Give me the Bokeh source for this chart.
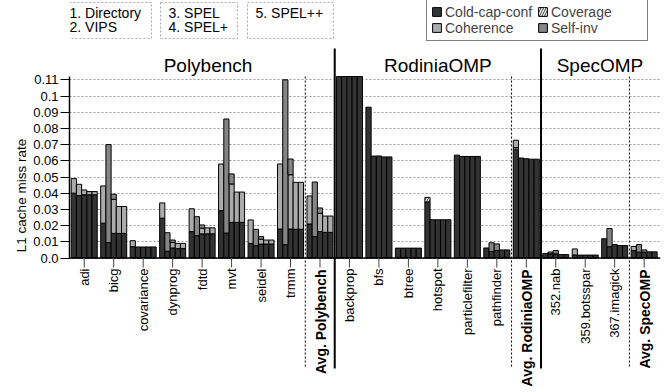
import numpy as np
from bokeh.plotting import figure
from bokeh.models import ColumnDataSource, FixedTicker, Legend, LegendItem, Title, Range1d
from bokeh.core.properties import value
from bokeh.embed import file_html
from bokeh.resources import INLINE

# ---------------- data ----------------
categories = ["adi", "bicg", "covariance", "dynprog", "fdtd", "mvt", "seidel", "trmm",
              "Avg. Polybench",
              "backprop", "bfs", "btree", "hotspot", "particlefilter", "pathfinder",
              "Avg. RodiniaOMP",
              "352.nab", "359.botsspar", "367.imagick", "Avg. SpecOMP"]
avg_categories = ["Avg. Polybench", "Avg. RodiniaOMP", "Avg. SpecOMP"]
suites = ["Polybench", "RodiniaOMP", "SpecOMP"]
suite_first = [0, 9, 16]
suite_last = [8, 15, 19]
config_lines = [["1. Directory", "2. VIPS"], ["3. SPEL", "4. SPEL+"], ["5. SPEL++"]]
series_names = ["Cold-cap-conf", "Coverage", "Coherence", "Self-inv"]

# one row per category, one value per configuration (1..5)
cold = [
    [0.040, 0.0385, 0.039, 0.039, 0.039],        # adi
    [0.0215, 0.0095, 0.0152, 0.0152, 0.0152],    # bicg
    [0.0070, 0.0068, 0.0068, 0.0068, 0.0068],    # covariance
    [0.0246, 0.0042, 0.0062, 0.0058, 0.0058],    # dynprog
    [0.0163, 0.0138, 0.0149, 0.0149, 0.0149],    # fdtd
    [0.0292, 0.0154, 0.0220, 0.0220, 0.0220],    # mvt
    [0.0090, 0.0076, 0.0086, 0.0086, 0.0086],    # seidel
    [0.0179, 0.0082, 0.0179, 0.0177, 0.0177],    # trmm
    [0.0210, 0.0132, 0.0163, 0.0158, 0.0158],    # Avg. Polybench
    [0.115, 0.115, 0.115, 0.115, 0.115],         # backprop (off scale)
    [0.0931, 0.0629, 0.0630, 0.0624, 0.0624],    # bfs
    [0.0061, 0.0061, 0.0061, 0.0061, 0.0061],    # btree
    [0.0346, 0.0236, 0.0236, 0.0236, 0.0236],    # hotspot
    [0.0635, 0.0627, 0.0627, 0.0627, 0.0627],    # particlefilter
    [0.0062, 0.0040, 0.0046, 0.0050, 0.0050],    # pathfinder
    [0.0672, 0.0617, 0.0613, 0.0610, 0.0610],    # Avg. RodiniaOMP
    [0.0027, 0.0026, 0.0026, 0.0021, 0.0021],    # 352.nab
    [0.0019, 0.0018, 0.0018, 0.0018, 0.0018],    # 359.botsspar
    [0.0119, 0.0070, 0.0083, 0.0077, 0.0077],    # 367.imagick
    [0.0046, 0.0036, 0.0036, 0.0038, 0.0038],    # Avg. SpecOMP
]
coverage = [[0, 0, 0, 0, 0] for _ in range(12)] + [
    [0.0028, 0, 0, 0, 0],                        # hotspot
    [0, 0, 0, 0, 0],
    [0, 0, 0, 0, 0],
    [0.0010, 0, 0, 0, 0],                        # Avg. RodiniaOMP
    [0, 0, 0, 0, 0], [0, 0, 0, 0, 0], [0, 0, 0, 0, 0], [0, 0, 0, 0, 0],
]
coherence = [
    [0.0090, 0.0070, 0.0030, 0.0020, 0.0020],
    [0.0230, 0, 0.0210, 0.0166, 0.0166],
    [0.0037, 0, 0, 0, 0],
    [0.0094, 0, 0.0034, 0.0032, 0.0032],
    [0.0141, 0, 0.0035, 0.0037, 0.0037],
    [0.0288, 0, 0.0237, 0.0187, 0.0187],
    [0.0145, 0, 0.0030, 0.0025, 0.0025],
    [0.0401, 0, 0.0335, 0.0290, 0.0290],
    [0.0173, 0, 0.0113, 0.0101, 0.0101],
    [0, 0, 0, 0, 0], [0, 0, 0, 0, 0], [0, 0, 0, 0, 0], [0, 0, 0, 0, 0],
    [0, 0, 0, 0, 0], [0, 0, 0, 0, 0],
    [0.0045, 0, 0, 0, 0],
    [0, 0, 0, 0, 0],
    [0.0037, 0, 0, 0, 0],
    [0, 0, 0, 0, 0],
    [0.0025, 0, 0, 0, 0],
]
selfinv = [
    [0, 0, 0, 0, 0],
    [0, 0.0605, 0.0032, 0, 0],
    [0, 0, 0, 0, 0],
    [0, 0.0114, 0.0015, 0, 0],
    [0, 0.0117, 0.0020, 0, 0],
    [0, 0.0704, 0.0062, 0, 0],
    [0, 0.0101, 0.0016, 0, 0],
    [0, 0.1018, 0.0097, 0, 0],
    [0, 0.0337, 0.0033, 0, 0],
    [0, 0, 0, 0, 0], [0, 0, 0, 0, 0], [0, 0, 0, 0, 0], [0, 0, 0, 0, 0],
    [0, 0, 0, 0, 0],
    [0, 0.0054, 0.0041, 0, 0],
    [0, 0, 0, 0, 0],
    [0, 0.0011, 0.0020, 0, 0],
    [0, 0, 0, 0, 0],
    [0, 0.0112, 0, 0, 0],
    [0, 0.0047, 0.0014, 0, 0],
]
yticks = [0.0, 0.01, 0.02, 0.03, 0.04, 0.05, 0.06, 0.07, 0.08, 0.09, 0.1, 0.11]
ytick_labels = ["0.0", "0.01", "0.02", "0.03", "0.04", "0.05", "0.06", "0.07",
                "0.08", "0.09", "0.1", "0.11"]

# ---------------- layout helpers ----------------
FONT = "Liberation Sans"
W, H = 664, 390
ORIG_X, ORIG_Y = 0, 0
PX_X = 29.47                    # px per category
FRAME_L = 69                    # absolute px of frame left
ZERO_Y = 257.5                  # absolute px of y = 0
YPX = 0.11 / 178.2              # data per px
YMAX = 0.112
BORDER_L, BORDER_R = FRAME_L - ORIG_X, 4
X0 = -0.5
X1 = X0 + (W - BORDER_L - BORDER_R) / PX_X
Y1 = (ZERO_Y - ORIG_Y) * YPX
Y0 = -(ORIG_Y + H - ZERO_Y) * YPX


def ax(xabs):
    return X0 + (xabs - FRAME_L) / PX_X


def ay(yabs):
    return (ZERO_Y - yabs) * YPX


p = figure(width=W, height=H, output_backend="svg", toolbar_location=None,
           x_range=Range1d(X0, X1), y_range=Range1d(Y0, Y1),
           x_axis_location=None, min_border_left=BORDER_L, min_border_right=BORDER_R,
           min_border_top=0, min_border_bottom=0)
p.outline_line_color = None
p.xgrid.visible = False
p.ygrid.ticker = FixedTicker(ticks=yticks)
p.ygrid.grid_line_color = "#9a9a9a"
p.ygrid.grid_line_dash = "2 2"
p.ygrid.grid_line_width = 1

yax = p.yaxis[0]
yax.ticker = FixedTicker(ticks=yticks)
yax.bounds = (0, YMAX)
yax.major_label_overrides = dict(zip(yticks, ytick_labels))
yax.major_label_text_font = FONT
yax.major_label_text_font_size = "13px"
yax.major_label_text_color = "black"
yax.major_tick_out = 9
yax.major_tick_in = 0
yax.minor_tick_out = 0
yax.minor_tick_in = 0
yax.major_label_standoff = 2
yax.axis_line_color = "black"
yax.axis_line_width = 1.5
yax.major_tick_line_color = "black"

# y axis title, centred on the 0..0.112 axis rather than the whole frame
frame_mid = (ORIG_Y + H) / 2
axis_mid = (ZERO_Y + (ZERO_Y - YMAX / YPX)) / 2
p.add_layout(Title(text="L1 cache miss rate", align="center", offset=frame_mid - axis_mid,
                   text_font=FONT, text_font_size="13.5px", text_font_style="normal",
                   text_color="black", standoff=4), "left")

# ---------------- bars ----------------
n = len(categories)
BW = 0.1765
offsets = (np.arange(5) - 2) * BW
centers = np.arange(n)
styles = [
    dict(fill_color="#333333"),
    dict(fill_color="white", hatch_pattern="/", hatch_color="black", hatch_scale=5, hatch_weight=0.8),
    dict(fill_color="#ababab"),
    dict(fill_color="#858585"),
]
base = np.zeros((n, 5))
legend_items = []
for name, arr, st in zip(series_names, [cold, coverage, coherence, selfinv], styles):
    a = np.array(arr, dtype=float)
    bottom = base.copy()
    top = base + a
    base = top
    mask = a > 0
    xs = (centers[:, None] + offsets[None, :])[mask]
    src = ColumnDataSource(dict(x=xs, bottom=np.minimum(bottom[mask], YMAX),
                                top=np.minimum(top[mask], YMAX)))
    r = p.vbar(x="x", width=BW, bottom="bottom", top="top", source=src,
               line_color="black", line_width=1, **st)
    legend_items.append(LegendItem(label=name, renderers=[r]))

# x axis line and ticks
p.segment(x0=[X0], y0=[0], x1=[X1], y1=[0], line_color="black", line_width=1.5)
p.segment(x0=centers, y0=np.zeros(n), x1=centers, y1=np.full(n, ay(267)),
          line_color="#444444", line_width=1)

# category labels
normal = [c for c in categories if c not in avg_categories]
p.text(x=[categories.index(c) for c in normal], y=[ay(268)] * len(normal), text=normal,
       angle=np.pi / 2, text_align="right", text_baseline="alphabetic",
       text_font=value(FONT), text_font_size="13px", text_color="black")
p.text(x=[categories.index(c) + 0.03 for c in avg_categories], y=[ay(269)] * 3, text=avg_categories,
       angle=np.pi / 2, text_align="right", text_baseline="alphabetic",
       text_font=value(FONT), text_font_size="14px", text_font_style="bold", text_color="black")

# separators
solid_x = [suite_last[i] + 0.5 for i in range(2)]
p.segment(x0=solid_x, y0=[ay(48)] * 2, x1=solid_x, y1=[ay(368)] * 2,
          line_color="black", line_width=2)
dash_x = [suite_last[i] - 0.5 for i in range(3)]
p.segment(x0=dash_x, y0=[YMAX] * 3, x1=dash_x, y1=[ay(368)] * 3,
          line_color="black", line_width=1, line_dash="2 2")

# suite titles
title_x = [4.2, (suite_first[1] + suite_last[1]) / 2, (suite_first[2] + suite_last[2]) / 2]
p.text(x=title_x, y=[ay(65)] * 3, text=suites, text_align="center", text_baseline="alphabetic",
       text_font=value(FONT), text_font_size="19px", text_color="black")

# configuration boxes
box_l = [61, 160, 247]
box_r = [151, 237, 333]
p.quad(left=[ax(v) for v in box_l], right=[ax(v) for v in box_r],
       top=[ay(2)] * 3, bottom=[ay(38)] * 3, fill_color=None,
       line_color="#a8a8a8", line_dash="2 2", line_width=1)
tx, ty, tt = [], [], []
for i, lines in enumerate(config_lines):
    for j, t in enumerate(lines):
        tx.append(ax(box_l[i] + 8))
        ty.append(ay(12.5 + 13.5 * j))
        tt.append(t)
p.text(x=tx, y=ty, text=tt, text_align="left", text_baseline="middle",
       text_font=value(FONT), text_font_size="14px", text_color="black")

# legend
legend = Legend(items=[legend_items[0], legend_items[2], legend_items[1], legend_items[3]],
                ncols=2, location=(426 - FRAME_L, ORIG_Y + H - 40.5),
                label_text_font=FONT, label_text_font_size="14px",
                glyph_width=11, glyph_height=11, label_standoff=3, spacing=0,
                padding=4, margin=0, border_line_color="black", border_line_width=1,
                background_fill_alpha=1, label_height=12, label_width=92)
p.add_layout(legend)

open("out.html", "w").write(file_html(p, INLINE))
